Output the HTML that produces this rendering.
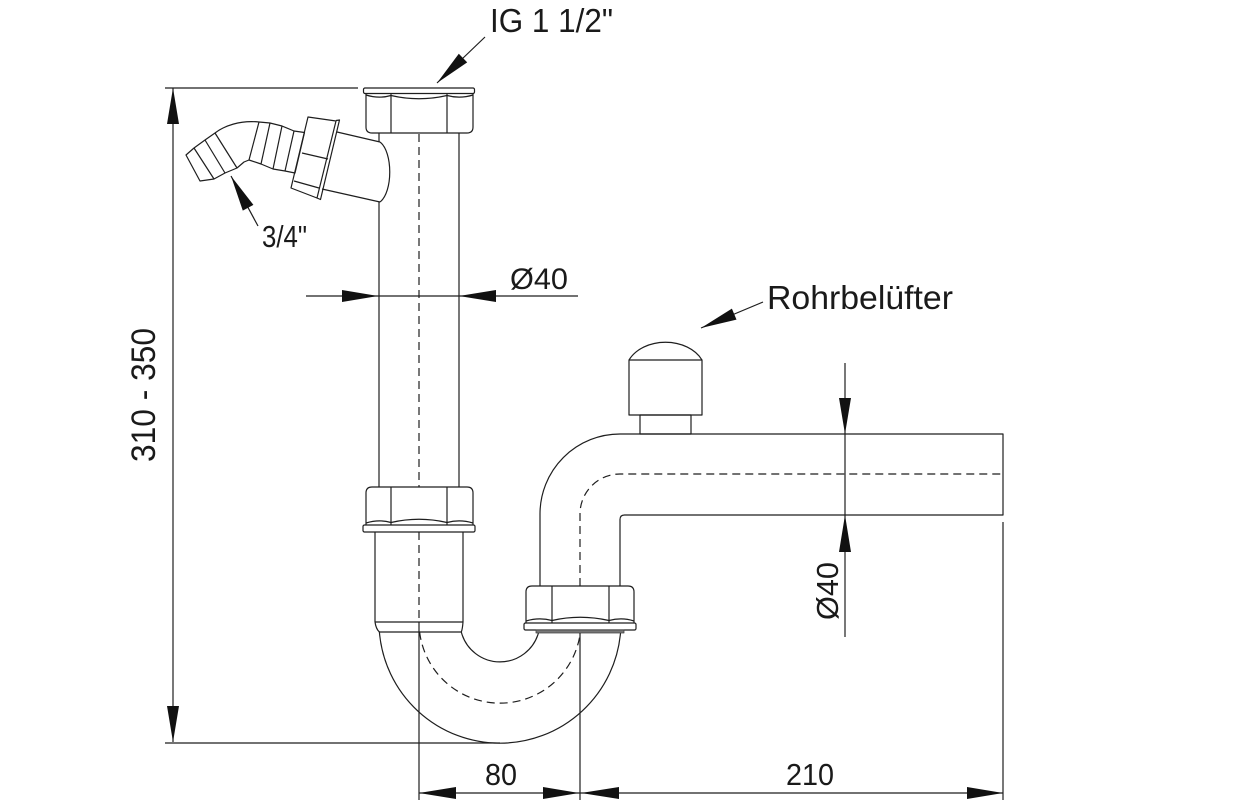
<!DOCTYPE html>
<html>
<head>
<meta charset="utf-8">
<style>
  html,body{margin:0;padding:0;background:#fff;}
  svg{display:block;}
  text{font-family:"Liberation Sans","DejaVu Sans",sans-serif;fill:#1a1a1a;}
</style>
</head>
<body>
<svg width="1251" height="801" viewBox="0 0 1251 801" xmlns="http://www.w3.org/2000/svg">
  <rect x="0" y="0" width="1251" height="801" fill="#fff"/>
  <g fill="none" stroke="#1e1e1e" stroke-width="1.2" stroke-linejoin="round" stroke-linecap="butt">

    <!-- ===== Top nut (IG 1 1/2") ===== -->
    <rect x="363.5" y="88" width="111" height="5.5" rx="1.5"/>
    <path d="M366,93.5 L366,127 Q366,133 372,133 L467,133 Q473,133 473,127 L473,93.5"/>
    <line x1="391" y1="93.5" x2="391" y2="133"/>
    <line x1="447" y1="93.5" x2="447" y2="133"/>
    <path d="M366,95 Q379,99 391,95.5"/>
    <path d="M391,95.5 Q419,102 447,95.5"/>
    <path d="M447,95.5 Q460,99 473,95"/>

    <!-- ===== Main vertical pipe ===== -->
    <line x1="379" y1="133" x2="379" y2="142"/>
    <line x1="379" y1="202" x2="379" y2="487"/>
    <line x1="459" y1="133" x2="459" y2="487"/>
    <line x1="419" y1="134" x2="419" y2="487" stroke-dasharray="8,5"/>

    <!-- ===== Side spigot + union nut + hose tail ===== -->
    <line x1="337" y1="132" x2="380" y2="142"/>
    <line x1="322" y1="189" x2="380" y2="202"/>
    <path d="M380,142 C393,152 393,192 380,202"/>
    <!-- union nut -->
    <polygon points="308,117 336,121 317,198 291,188"/>
    <polyline points="336,120.5 339.5,120 320.5,199.5 317,198"/>
    <line x1="302" y1="153" x2="328" y2="159"/>
    <line x1="294" y1="181" x2="319" y2="188"/>
    <!-- hose tail outline -->
    <path d="M200,181 L186,155 L194,148 L205,140 L215,133 C224,126 240,120 259,122 L270,123 L282,126 L294,131 L304.5,132.5
             L295,173 L285,171 L273,169 L261,164 L249,160 L244,162 L237,168 L225,173 L214,179 Z"/>
    <line x1="294" y1="131" x2="285" y2="171"/>
    <line x1="194" y1="148" x2="214" y2="179"/>
    <line x1="205" y1="140" x2="225" y2="173"/>
    <line x1="215" y1="133" x2="237" y2="168"/>
    <line x1="259" y1="122" x2="249" y2="160"/>
    <line x1="270" y1="123" x2="261" y2="164"/>
    <line x1="282" y1="126" x2="273" y2="169"/>

    <!-- ===== Middle nut ===== -->
    <path d="M366,525 L366,493 Q366,487 372,487 L467,487 Q473,487 473,493 L473,525"/>
    <line x1="391" y1="487" x2="391" y2="525"/>
    <line x1="447" y1="487" x2="447" y2="525"/>
    <path d="M366,523 Q379,519 391,522.5"/>
    <path d="M391,522.5 Q419,516 447,522.5"/>
    <path d="M447,522.5 Q460,519 473,523"/>
    <rect x="363" y="525" width="112" height="7" rx="1.5"/>

    <!-- ===== Lower tube ===== -->
    <line x1="375" y1="532" x2="375" y2="622"/>
    <line x1="463" y1="532" x2="463" y2="622"/>
    <line x1="375" y1="622" x2="463" y2="622"/>
    <line x1="379" y1="632" x2="461" y2="632"/>
    <path d="M375,622 Q376,629 379.4,632"/>
    <path d="M463,622 Q462.5,629 461.3,632"/>
    <line x1="419" y1="532" x2="419" y2="622" stroke-dasharray="8,5"/>

    <!-- ===== U-bend ===== -->
    <path d="M379.4,632 A121,121 0 0 0 620.6,632"/>
    <path d="M461.3,632 A40,40 0 0 0 538.7,632"/>
    <path d="M419.6,632 A81,81 0 0 0 580.4,632" stroke-dasharray="8,5"/>

    <!-- ===== Right nut ===== -->
    <path d="M526,623 L526,592 Q526,586 532,586 L628,586 Q634,586 634,592 L634,623"/>
    <line x1="552" y1="586" x2="552" y2="623"/>
    <line x1="609" y1="586" x2="609" y2="623"/>
    <path d="M526,621 Q539,617 552,620.5"/>
    <path d="M552,620.5 Q580,614 609,620.5"/>
    <path d="M609,620.5 Q622,617 634,621"/>
    <rect x="524" y="623" width="112" height="7" rx="1.5"/>
    <rect x="536" y="630" width="88" height="3" fill="#777" stroke="#444" stroke-width="0.8"/>

    <!-- ===== Vent pipe / horizontal outlet ===== -->
    <path d="M540,586 L540,514 A80,80 0 0 1 620,434 L1003,434 L1003,515 L624.5,515 Q620,515 620,519.5 L620,586"/>
    <path d="M580,586 L580,514 A40,40 0 0 1 620,474 L1003,474" stroke-dasharray="8,5"/>

    <!-- ===== Rohrbelüfter (vent cap) ===== -->
    <rect x="640" y="415" width="51" height="19"/>
    <rect x="629" y="360" width="73" height="55"/>
    <path d="M629,360 A40,30 0 0 1 702,360"/>

    <!-- ===== Extension lines ===== -->
    <line x1="165" y1="88" x2="358" y2="88"/>
    <line x1="165" y1="743" x2="500" y2="743"/>
    <line x1="419" y1="622" x2="419" y2="800"/>
    <line x1="580" y1="633" x2="580" y2="800"/>
    <line x1="1003" y1="522" x2="1003" y2="800"/>

    <!-- ===== Dimension lines ===== -->
    <line x1="173" y1="88" x2="173" y2="742"/>
    <line x1="306" y1="296" x2="578" y2="296"/>
    <line x1="845" y1="363" x2="845" y2="637"/>
    <line x1="419" y1="793" x2="1003" y2="793"/>

    <!-- leaders -->
    <line x1="437" y1="83" x2="485" y2="37"/>
    <line x1="231" y1="176" x2="258" y2="226"/>
    <line x1="701" y1="328" x2="763" y2="302"/>
  </g>

  <!-- ===== Arrowheads ===== -->
  <g fill="#111" stroke="none">
    <polygon points="173,88 167,124 179,124"/>
    <polygon points="173,742 167,706 179,706"/>
    <polygon points="378,296 342,290 342,302"/>
    <polygon points="459,296 496,290 496,302"/>
    <polygon points="845,434 839,398 851,398"/>
    <polygon points="845,515 839,552 851,552"/>
    <polygon points="419,793 456,787 456,799"/>
    <polygon points="579,793 543,787 543,799"/>
    <polygon points="581,793 619,787 619,799"/>
    <polygon points="1003,793 967,787 967,799"/>
    <polygon points="437,83 467.2,62.4 458.8,53.8"/>
    <polygon points="231,176 253.4,204.9 242.8,210.6"/>
    <polygon points="701,328 736.5,319.6 731.9,308.6"/>
  </g>

  <!-- ===== Labels ===== -->
  <text x="490" y="32" font-size="33" textLength="123" lengthAdjust="spacingAndGlyphs">IG 1 1/2"</text>
  <text x="262" y="247" font-size="31" textLength="45" lengthAdjust="spacingAndGlyphs">3/4"</text>
  <text x="510" y="289" font-size="30" textLength="58" lengthAdjust="spacingAndGlyphs">Ø40</text>
  <text x="767" y="309" font-size="33" textLength="186" lengthAdjust="spacingAndGlyphs">Rohrbelüfter</text>
  <text transform="translate(155,462) rotate(-90)" font-size="34" textLength="134" lengthAdjust="spacingAndGlyphs">310 - 350</text>
  <text transform="translate(838,620) rotate(-90)" font-size="31" textLength="58" lengthAdjust="spacingAndGlyphs">Ø40</text>
  <text x="485" y="785" font-size="31" textLength="32" lengthAdjust="spacingAndGlyphs">80</text>
  <text x="786" y="785" font-size="31" textLength="48" lengthAdjust="spacingAndGlyphs">210</text>
</svg>
</body>
</html>
